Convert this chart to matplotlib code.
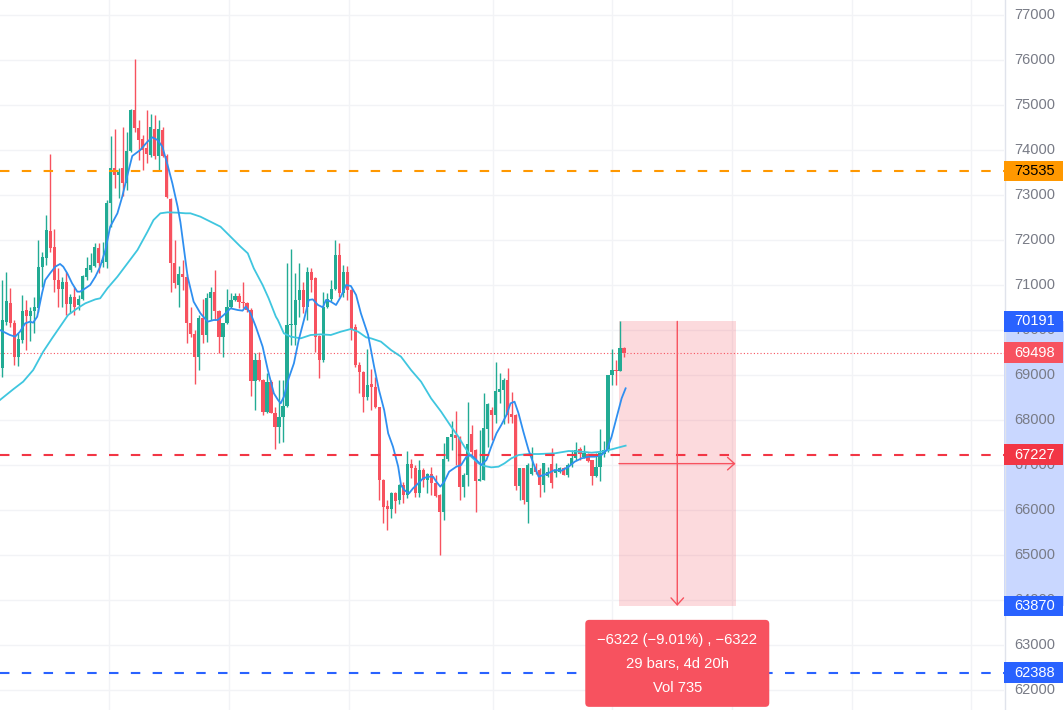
import numpy as np
import matplotlib.pyplot as plt
import matplotlib.transforms as mtransforms
from matplotlib.patches import Rectangle, FancyBboxPatch

plt.rcParams['font.family'] = ['Liberation Sans', 'DejaVu Sans']
plt.rcParams['lines.scale_dashes'] = False

# ---- candle data (4h bars) ----
opens = [69148, 70185, 70593, 70163, 69407, 69778, 70444, 70311, 70422, 70481,
         71393, 71593, 72207, 71852, 71100, 70911, 71074, 70578, 70741, 70556,
         70681, 71185, 71333, 71422, 71815, 71481, 71519, 72815, 73593, 73444,
         73593, 73274, 73978, 74889, 74481, 74244, 74037, 73889, 74467, 73867,
         74444, 73867, 72911, 71481, 71000, 71244, 71185, 70163, 69911, 69393,
         70259, 69889, 70704, 70837, 70430, 69837, 70148, 70504, 70667, 70756,
         70630, 70593, 70444, 68874, 69333, 68889, 68185, 68852, 68163, 67852,
         68059, 68311, 70111, 70111, 70667, 70889, 70518, 71281, 71148, 69867,
         69333, 70518, 70681, 70904, 71667, 70815, 71296, 70889, 70074, 69222,
         69074, 68519, 68793, 68726, 68281, 66667, 66089, 66015, 66385, 66222,
         66556, 66333, 67022, 66926, 66370, 66889, 66667, 66800, 66593, 66333,
         65963, 67126, 67615, 67667, 67615, 66504, 66778, 67689, 67333, 66652,
         66667, 67800, 68222, 68111, 68630, 68667, 68889, 68126, 68111, 66533,
         66926, 66185, 66800, 66941, 66889, 66556, 66763, 67022, 66815, 66837,
         66926, 66778, 67000, 67148, 67348, 67185, 67244, 67111, 66763, 66963,
         67244, 67333, 69000, 69111, 69096, 69593]
highs = [71111, 71296, 70926, 70222, 69926, 70778, 70667, 70519, 70741, 72000,
         71741, 72556, 73911, 72237, 71370, 71185, 71296, 70800, 70963, 70778,
         71222, 71630, 71704, 71941, 71926, 71963, 72889, 74311, 74467, 73593,
         74504, 74393, 74904, 76015, 74667, 74326, 74889, 74793, 74778, 74667,
         74504, 73900, 72926, 72000, 71422, 71555, 71244, 70519, 70000, 70333,
         70681, 70815, 70963, 71333, 70444, 70163, 70904, 70830, 70815, 70815,
         71074, 70630, 70481, 69481, 69518, 68904, 69052, 68889, 68296, 68889,
         68889, 71496, 71793, 71259, 71481, 71074, 71407, 71370, 71185, 69900,
         70852, 70815, 71111, 72000, 71926, 71444, 71422, 70904, 70133, 69296,
         69100, 69570, 69126, 68948, 68300, 66680, 66222, 66407, 66407, 66580,
         66630, 67319, 67126, 67000, 67111, 66926, 66815, 66963, 66778, 66350,
         67496, 67630, 67985, 68200, 67640, 66815, 68407, 67889, 67350, 67778,
         68593, 68370, 68296, 69296, 69052, 68926, 69148, 68630, 68126, 66926,
         66926, 67037, 67407, 67037, 66926, 67037, 66963, 67370, 67037, 66963,
         66963, 67037, 67333, 67518, 67407, 67444, 67259, 67111, 67259, 67793,
         67541, 69000, 69570, 69333, 70191, 69615]
lows = [68963, 70111, 70074, 69222, 69207, 69704, 69556, 69756, 69926, 70407,
        70963, 71444, 71741, 70852, 70519, 70519, 70333, 70370, 70333, 70444,
        70667, 71111, 71296, 71407, 71274, 71407, 71370, 72296, 73148, 72944,
        72985, 73111, 73950, 74400, 73778, 73556, 73704, 73852, 73800, 73556,
        73850, 72926, 70852, 70926, 70519, 70889, 69704, 69852, 68800, 69111,
        69719, 69741, 70222, 70222, 69482, 69393, 70130, 70480, 70640, 70480,
        70480, 70407, 68533, 68222, 68870, 68111, 68160, 68148, 67348, 67482,
        67519, 68296, 69667, 69667, 70296, 70370, 70222, 70852, 69518, 68926,
        69296, 70480, 70650, 70880, 70741, 70741, 70667, 69778, 69185, 68593,
        68185, 68444, 68222, 68259, 66222, 65704, 65556, 65815, 65926, 66133,
        66163, 66260, 66704, 66296, 66296, 66519, 66385, 66333, 66296, 65000,
        65778, 67100, 67333, 67000, 66222, 66296, 66533, 67185, 65963, 66652,
        66667, 67407, 67556, 67926, 68370, 67911, 67941, 67941, 66444, 66222,
        66133, 65704, 66780, 66800, 66296, 66400, 66740, 66481, 66741, 66815,
        66778, 66741, 66963, 67111, 67111, 67148, 67074, 66556, 66740, 66652,
        67185, 67296, 68778, 68778, 69080, 69407]
closes = [70222, 70644, 70148, 69393, 69793, 70422, 70311, 70422, 70519, 71407,
          71630, 72222, 71830, 71100, 70911, 71074, 70578, 70741, 70519, 70681,
          71200, 71370, 71444, 71852, 71481, 71556, 72815, 73593, 73444, 73519,
          73274, 73978, 74889, 74481, 74222, 74000, 73911, 74519, 73867, 74467,
          73867, 72963, 71481, 71037, 71244, 71185, 70163, 69911, 69393, 70259,
          69889, 70704, 70837, 70430, 69837, 70148, 70504, 70667, 70756, 70630,
          70593, 70444, 68874, 69333, 68889, 68185, 68852, 68163, 67852, 68074,
          68311, 70111, 70133, 70667, 70889, 70518, 71281, 71111, 69852, 69333,
          70518, 70681, 70904, 71667, 70815, 71296, 70889, 70000, 69222, 69074,
          68519, 68778, 68726, 68281, 66667, 66074, 66015, 66385, 66207, 66556,
          66333, 67022, 66926, 66370, 66889, 66667, 66800, 66593, 66311, 65963,
          67126, 67615, 67689, 67593, 66504, 66778, 67459, 67296, 66652, 66689,
          67815, 68356, 68111, 68644, 68681, 68889, 68111, 68074, 66533, 66926,
          66222, 67000, 66941, 66852, 66556, 67037, 66837, 66593, 66889, 66926,
          66778, 67000, 67148, 67333, 67244, 67259, 67096, 66763, 66963, 67259,
          67333, 69000, 69111, 69096, 69593, 69498]

# ---- moving averages (bar position, price) ----
fast_ma_bar = [-0.6, 1.9, 3.2, 4.4, 5.7, 6.9, 7.7, 8.7, 9.9, 10.7,
               11.9, 13.2, 14.4, 15.2, 16.2, 17.4, 18.7, 19.4, 20.7, 21.9,
               23.2, 24.4, 25.7, 26.9, 28.7, 29.9, 31.2, 32.4, 34.4, 36.2,
               37.4, 38.7, 39.9, 41.2, 42.4, 43.7, 44.4, 46.2, 47.7, 49.4,
               51.2, 52.7, 53.7, 55.2, 56.9, 58.7, 59.9, 60.7, 61.9, 63.2,
               64.9, 66.2, 67.7, 68.7, 69.4, 70.2, 71.4, 72.7, 73.9, 75.2,
               76.4, 77.4, 78.7, 79.9, 80.7, 81.9, 83.2, 84.4, 85.7, 86.9,
               88.2, 89.4, 91.2, 92.7, 93.9, 95.2, 96.2, 97.4, 98.7, 99.4,
               100.2, 101.4, 102.4, 103.7, 104.9, 106.2, 107.4, 108.2, 109.2, 110.2,
               111.4, 113.2, 114.4, 115.7, 116.9, 118.2, 119.4, 120.7, 121.9, 123.2,
               124.4, 125.7, 126.7, 127.7, 128.7, 129.9, 131.2, 132.4, 133.7, 134.9,
               135.7, 137.7, 139.4, 141.2, 142.7, 144.4, 146.2, 147.7, 149.4, 150.7,
               151.9, 153.2, 154.4, 155.4]
fast_ma = [70000, 69889, 69852, 69963, 70148, 70185, 70163, 70296, 70815, 71111,
           71259, 71407, 71467, 71407, 71259, 71037, 70852, 70852, 70926, 71000,
           71185, 71407, 71778, 72296, 72593, 72963, 73444, 73867, 74000, 74185,
           74281, 74222, 74074, 73667, 73259, 72741, 72400, 71185, 70630, 70370,
           70185, 70222, 70222, 70333, 70481, 70444, 70430, 70518, 70370, 70074,
           69630, 69111, 68593, 68450, 68370, 68519, 68926, 69259, 69778, 70222,
           70667, 70681, 70556, 70504, 70667, 70630, 70556, 70741, 71000, 70978,
           70778, 70370, 69889, 69185, 68667, 68222, 67704, 67407, 66963, 66556,
           66444, 66370, 66482, 66593, 66704, 66741, 66741, 66630, 66519, 66630,
           66852, 66963, 67000, 67185, 67222, 67111, 67000, 67111, 67407, 67704,
           67889, 68111, 68370, 68407, 68148, 67741, 67333, 67037, 66741, 66778,
           66800, 66889, 66874, 66963, 67074, 67148, 67185, 67185, 67222, 67333,
           67630, 68074, 68481, 68704]

slow_ma_bar = [-0.6, 2.7, 5.2, 7.7, 10.2, 12.4, 14.4, 16.4, 18.7, 20.7,
               23.2, 24.4, 26.2, 28.7, 31.2, 33.7, 36.2, 37.7, 39.4, 41.2,
               43.7, 45.7, 46.9, 49.4, 51.9, 54.4, 56.9, 59.4, 61.2, 62.7,
               64.9, 66.4, 68.2, 68.7, 70.2, 71.9, 74.4, 76.9, 79.4, 81.9,
               84.4, 86.9, 88.7, 90.7, 91.9, 94.4, 96.9, 99.4, 101.9, 104.4,
               106.9, 109.4, 111.9, 113.7, 115.2, 116.9, 118.7, 120.2, 121.9, 123.7,
               125.2, 126.9, 128.7, 131.2, 133.7, 137.7, 141.2, 144.4, 146.9, 149.4,
               151.9, 154.4, 155.4]
slow_ma = [68444, 68681, 68852, 69111, 69519, 69815, 70074, 70333, 70481, 70593,
           70681, 70704, 70926, 71185, 71481, 71778, 72185, 72444, 72593, 72615,
           72607, 72593, 72593, 72518, 72407, 72296, 72074, 71852, 71704, 71370,
           71000, 70704, 70296, 70222, 69926, 69852, 69815, 69889, 69904, 69889,
           69963, 70022, 69963, 69837, 69815, 69741, 69556, 69407, 69111, 68852,
           68481, 68185, 67852, 67630, 67407, 67185, 67037, 66978, 66948, 66963,
           67037, 67148, 67222, 67244, 67244, 67259, 67311, 67296, 67274, 67296,
           67348, 67407, 67430]

price_ticks = list(range(62000, 77001, 1000))
orange_level = 73535
red_level = 67227
blue_level = 62388
last_price = 69498

# price range measurement
range_top = 70191
range_bottom = 63870
range_start_bar = 153.75
range_bars = 29
range_text = ['\u22126322 (\u22129.01%) , \u22126322', '29 bars, 4d 20h', 'Vol 735']

# ---- colours ----
UP = '#22ab94'
DOWN = '#f7525f'
GRID = '#f2f3f6'

fig = plt.figure(figsize=(10.64, 7.10), dpi=100)
ax = fig.add_axes([0, 0, 1004 / 1064, 1])
ymin, ymax = 61556, 77333
ax.set_xlim(-0.573, 249.73)
ax.set_ylim(ymin, ymax)
for s in ax.spines.values():
    s.set_visible(False)
ax.set_xticks([])
ax.set_yticks([])

# grid
for p in price_ticks:
    ax.axhline(p, color=GRID, lw=1, zorder=0)
for b in [26.7, 56.6, 86.4, 122.3, 151.9, 181.9, 211.8, 241.4]:
    ax.axvline(b, color=GRID, lw=1, zorder=0)

# measurement rectangle (behind candles)
range_end_bar = range_start_bar + range_bars + 0.05
ax.add_patch(Rectangle((range_start_bar, range_bottom), range_end_bar - range_start_bar,
                       range_top - range_bottom, facecolor='#f23645', alpha=0.18,
                       lw=0, zorder=1))

# candles
o = np.array(opens, float)
h = np.array(highs, float)
l = np.array(lows, float)
c = np.array(closes, float)
idx = np.arange(len(c))
cols = np.where(c >= o, UP, DOWN)
ax.vlines(idx, l, h, colors=cols, lw=1.0, zorder=3)
body_lo = np.minimum(o, c)
body_h = np.maximum(np.abs(c - o), 25)
ax.bar(idx, body_h, bottom=body_lo, width=0.8, color=cols, lw=0, zorder=4)

# moving averages
ax.plot(slow_ma_bar, slow_ma, color='#3fc6df', lw=1.3, zorder=5)
ax.plot(fast_ma_bar, fast_ma, color='#2f8ff0', lw=1.3, zorder=6)

# horizontal levels
ax.axhline(orange_level, color='#ff9800', lw=1.5, dashes=(6.8, 8.9), zorder=7)
ax.axhline(red_level, color='#f23645', lw=1.5, dashes=(6.8, 8.9), zorder=7)
ax.axhline(blue_level, color='#2962ff', lw=1.5, dashes=(6.8, 8.9), zorder=7)
ax.axhline(last_price, color='#f7525f', lw=0.8, dashes=(0.8, 1.6), zorder=2)

# measurement arrows
mid_bar = (range_start_bar + range_end_bar) / 2
mid_price = (range_top + range_bottom) / 2
arrow = dict(arrowstyle='->,head_length=0.5,head_width=0.45', color='#f7525f',
             lw=1.0, shrinkA=0, shrinkB=0)
ax.annotate('', xy=(mid_bar, range_bottom), xytext=(mid_bar, range_top),
            arrowprops=arrow, zorder=8)
ax.annotate('', xy=(range_end_bar, mid_price), xytext=(range_start_bar, mid_price),
            arrowprops=arrow, zorder=8)

# measurement label box, placed under the range in pixels
ident = mtransforms.IdentityTransform()
cx, cy = ax.transData.transform((mid_bar, range_bottom))
box_w, box_h, r = 184, 87, 4
top = cy - 14
fig.patches.append(FancyBboxPatch((cx - box_w / 2 + r, top - box_h + r),
                                  box_w - 2 * r, box_h - 2 * r,
                                  boxstyle='round,pad=%d' % r, fc='#f7525f',
                                  ec='none', transform=ident, zorder=10))
for t, dy in zip(range_text, [20, 44, 68]):
    fig.text(cx, top - dy, t, color='white', fontsize=10.6, ha='center',
             va='center', transform=ident, zorder=11)

# ---- price scale on the right ----
ax2 = fig.add_axes([1004 / 1064, 0, 60 / 1064, 1])
ax2.set_xlim(0, 60)
ax2.set_ylim(ymin, ymax)
ax2.axis('off')
ax2.add_patch(Rectangle((0, range_bottom), 60, range_top - range_bottom,
                        facecolor='#2962ff', alpha=0.25, lw=0, zorder=0))
ax2.axvline(0.5, color='#e0e3eb', lw=1, zorder=1)
for p in price_ticks:
    ax2.text(30.5, p, str(p), color='#787b86', fontsize=10.5, ha='center',
             va='center', zorder=2)

lab_h = 20.7 / 0.045
labels = [(orange_level, '#ff9800', 'black'),
          (range_top, '#2962ff', 'white'),
          (last_price, '#f7525f', 'white'),
          (red_level, '#f23645', 'white'),
          (range_bottom, '#2962ff', 'white'),
          (blue_level, '#2962ff', 'white')]
for p, bg, fg in labels:
    ax2.add_patch(Rectangle((0, p - lab_h / 2), 58.5, lab_h, facecolor=bg,
                            lw=0, zorder=3))
    ax2.text(30.5, p, str(p), color=fg, fontsize=10.5, ha='center',
             va='center', zorder=4)

fig.savefig('out.png', dpi=100)
